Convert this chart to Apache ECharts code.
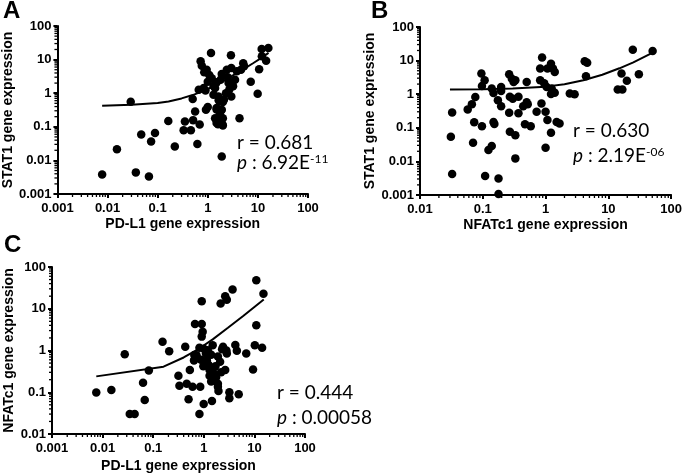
<!DOCTYPE html>
<html><head><meta charset="utf-8">
<script src="https://cdn.jsdelivr.net/npm/echarts@6/dist/echarts.min.js"></script>
<style>html,body{margin:0;padding:0;background:#fff}#c{width:685px;height:474px}</style>
</head><body><div id="c"></div>
<script>
// ---------- Panel A: PD-L1 vs STAT1 ----------
const xA = [0.0078,0.0154,0.029,0.0367,0.067,0.047,0.074,0.0885,0.163,0.22,0.33,0.35,0.46,0.51,0.50,0.56,0.62,0.69,0.72,0.76,0.66,0.83,0.92,1.0,1.16,0.95,1.07,1.2,1.3,1.5,1.4,1.63,1.77,1.5,1.9,1.4,1.57,1.97,2.0,1.9,2.1,2.3,1.9,1.8,2.4,2.9,2.95,2.6,3.2,2.95,3.5,4.3,4.6,5.1,5.3,7.2,9.9,10.6,11.9,16.2,14.6,12,1.5,1.75,2.0,1.6,1.65,2.0,1.5,1.85,1.75,0.85,1.0,0.9,2.5,3.8,1.3,2.7];
const yA = [0.0038,0.0215,0.56,0.0044,0.0033,0.059,0.0365,0.065,0.148,0.026,0.079,0.144,0.079,0.158,0.67,0.287,0.031,0.117,8.9,6.6,1.27,1.43,0.32,0.39,15.8,5.0,3.5,2.8,1.65,2.1,1.43,0.8,0.57,0.36,0.32,0.18,0.155,0.117,0.18,0.013,0.64,1.0,3.7,2.5,5.0,13.4,5.6,2.0,1.6,0.8,2.5,0.18,5.0,7.8,6.3,2.2,0.96,5.2,20.8,22,9.3,12.5,0.13,0.15,0.11,0.12,0.62,0.55,0.33,0.31,0.24,4.2,2.2,1.2,3.0,4.5,0.9,1.3];
const fitAx = [0.0078,0.03,0.1,0.165,0.3,0.5,0.8,1.2,2,3,5,8,12,16.3];
const fitAy = [0.42,0.45,0.51,0.57,0.70,0.88,1.15,1.5,2.25,3.2,5.0,7.8,11.5,15.8];

// ---------- Panel B: NFATc1 vs STAT1 ----------
const xB = [0.0325,0.031,0.0325,0.0575,0.067,0.076,0.073,0.07,0.097,0.095,0.107,0.097,0.109,0.123,0.139,0.148,0.153,0.139,0.148,0.178,0.178,0.174,0.196,0.196,0.196,0.263,0.29,0.31,0.33,0.27,0.3,0.263,0.27,0.33,0.33,0.37,0.37,0.44,0.5,0.5,0.52,0.47,0.58,0.72,0.82,0.82,0.88,0.86,0.95,1.04,1.0,1.07,1.0,1.07,1.22,1.31,1.4,1.22,1.25,1.4,1.22,1.5,1.67,2.43,2.9,4.2,4.6,4.4,14.1,16.7,16.2,19.7,24.5,30.6,50.7];
const yB = [0.285,0.054,0.0042,0.35,0.50,0.83,0.147,0.036,0.112,4.1,2.6,1.74,0.0037,0.0217,0.0285,0.15,0.13,1.47,1.09,0.0031,0.00107,0.66,0.44,1.65,1.25,3.9,2.9,2.3,2.6,0.84,0.73,0.28,0.076,0.06,0.0123,0.84,0.27,0.44,2.3,0.58,0.50,0.128,0.112,0.3,2.6,5.8,12.3,0.53,2.1,1.65,0.30,0.17,0.0255,5.8,8.1,5.8,4.6,1.02,1.47,1.1,0.071,0.15,0.135,1.05,1.0,9.5,8.6,3.4,1.37,1.37,4.1,2.5,21,3.95,19.4];
const fitBx = [0.03,0.1,0.3,1,2,4,8,15,25,50];
const fitBy = [1.39,1.41,1.47,1.68,1.98,2.6,3.8,5.9,8.9,16.9];

// ---------- Panel C: PD-L1 vs NFATc1 ----------
const xC = [0.0075,0.0149,0.0274,0.0344,0.043,0.063,0.068,0.082,0.153,0.207,0.315,0.33,0.43,0.46,0.5,0.53,0.6,0.64,0.67,0.72,0.82,0.85,0.82,0.91,0.91,0.95,0.98,0.91,0.995,1.1,1.15,1.2,1.3,1.4,1.4,1.45,1.5,1.6,1.75,1.9,1.95,1.9,1.9,2.1,2.15,2.3,2.4,2.65,2.65,2.85,2.8,2.85,3.2,3.2,3.7,4.2,4.5,4.9,6.9,9.4,10.2,10.9,10.9,14.2,15.1,0.88,1.25,1.7,1.6,2.2,1.3,0.65,1.0];
const yC = [0.099,0.113,0.817,0.030,0.030,0.169,0.065,0.33,1.61,0.96,0.248,0.143,1.23,0.16,0.068,0.34,0.135,0.58,4.3,0.77,1.17,0.135,0.030,4.3,2.15,2.8,0.42,15.2,0.052,0.85,0.58,1.02,0.34,0.79,0.18,0.062,1.34,0.28,0.23,0.72,0.107,0.135,0.16,0.54,13.3,1.07,1.23,0.34,20,16.5,1.0,0.85,0.1,0.072,29,1.35,0.98,0.09,0.85,0.35,1.34,4.0,48,1.17,23,0.6,0.45,0.42,0.25,0.3,0.25,0.78,1.1];
const fitCx = [0.0075,0.16,0.4,0.8,1.5,3,6,10,15.3];
const fitCy = [0.24,0.41,0.68,1.1,1.85,3.5,6.7,11,16.6];

// ---------- Tick labels ----------
const ticksPDL1 = ['0.001','0.01','0.1','1','10','100'];
const ticksNFATx = ['0.01','0.1','1','10','100'];
const ticksSTAT1 = ['0.001','0.01','0.1','1','10','100'];
const ticksNFATy = ['0.01','0.1','1','10','100'];

const labelFont = 'Liberation Sans';
function zip(a, b) { return a.map((v, i) => [v, b[i]]); }
function minorVals(min, max) {
  const out = [];
  for (let d = min; d < max * 0.99; d *= 10) {
    for (let k = 2; k <= 9; k++) out.push(+(d * k).toPrecision(6));
  }
  return out;
}

function axis(gridIndex, min, max, labels, name, nameGap, margin) {
  const emin = Math.round(Math.log10(min));
  return {
    type: 'log', logBase: 10, gridIndex, min, max, splitNumber: labels.length - 1,
    name, nameLocation: 'middle', nameGap,
    nameTextStyle: { fontFamily: labelFont, fontWeight: 'bold', fontSize: 14, color: '#000' },
    axisLine: { show: true, onZero: false, lineStyle: { color: '#000', width: 2 } },
    axisTick: { show: true, length: 4, lineStyle: { color: '#000', width: 2 } },
    splitLine: { show: false },
    axisLabel: {
      margin, fontFamily: labelFont, fontWeight: 'bold', fontSize: 13, color: '#000',
      formatter: v => labels[Math.round(Math.log10(v)) - emin]
    }
  };
}

const grids = [
  { left: 54, top: 26, width: 254, height: 168 },
  { left: 420, top: 27, width: 253, height: 168 },
  { left: 52, top: 267, width: 253, height: 167 }
];

const xAxes = [
  axis(0, 0.001, 100, ticksPDL1, 'PD-L1 gene expression', 23, 8),
  axis(1, 0.01, 100, ticksNFATx, 'NFATc1 gene expression', 23, 8),
  axis(2, 0.001, 100, ticksPDL1, 'PD-L1 gene expression', 25, 8)
];
const yAxes = [
  axis(0, 0.001, 100, ticksSTAT1, 'STAT1 gene expression', 37, 6),
  axis(1, 0.001, 100, ticksSTAT1, 'STAT1 gene expression', 40, 6),
  axis(2, 0.01, 100, ticksNFATy, 'NFATc1 gene expression', 36, 6)
];

function minorSeries(idx, xMin, xMax, yMin, yMax) {
  const xs = minorVals(xMin, xMax).map(v => [v, yMin]);
  const ys = minorVals(yMin, yMax).map(v => [xMin, v]);
  const common = { type: 'custom', xAxisIndex: idx, yAxisIndex: idx, silent: true, clip: false, z: 3 };
  return [
    Object.assign({}, common, {
      data: xs,
      renderItem: (p, api) => {
        const c = api.coord([api.value(0), api.value(1)]);
        return { type: 'line', shape: { x1: c[0], y1: c[1], x2: c[0], y2: c[1] + 3 }, style: { stroke: '#000', lineWidth: 1.3 } };
      }
    }),
    Object.assign({}, common, {
      data: ys,
      renderItem: (p, api) => {
        const c = api.coord([api.value(0), api.value(1)]);
        return { type: 'line', shape: { x1: c[0], y1: c[1], x2: c[0] - 3, y2: c[1] }, style: { stroke: '#000', lineWidth: 1.3 } };
      }
    })
  ];
}

function scatter(idx, xs, ys) {
  return { type: 'scatter', xAxisIndex: idx, yAxisIndex: idx, data: zip(xs, ys), symbolSize: 8.5, itemStyle: { color: '#000', opacity: 1 }, silent: true, z: 4 };
}
function fit(idx, xs, ys) {
  return { type: 'line', xAxisIndex: idx, yAxisIndex: idx, data: zip(xs, ys), showSymbol: false, smooth: false, lineStyle: { color: '#000', width: 2 }, silent: true, z: 5 };
}

const series = [
  scatter(0, xA, yA), fit(0, fitAx, fitAy),
  scatter(1, xB, yB), fit(1, fitBx, fitBy),
  scatter(2, xC, yC), fit(2, fitCx, fitCy),
  ...minorSeries(0, 0.001, 100, 0.001, 100),
  ...minorSeries(1, 0.01, 100, 0.001, 100),
  ...minorSeries(2, 0.001, 100, 0.01, 100)
];

const annFont = 'Lato';
const rich = {
  i: { fontStyle: 'italic', fontSize: 19, fontFamily: annFont, fill: '#000' },
  s: { fontSize: 12, fontFamily: annFont, verticalAlign: 'top', fill: '#000' }
};
function txt(x, y, text, size, bold, family) {
  return { type: 'text', x, y, silent: true, style: { text, fill: '#000', font: (bold ? 'bold ' : '') + size + 'px "' + family + '"', verticalAlign: 'middle', rich } };
}

const graphic = [
  txt(3, 11, 'A', 24, true, labelFont),
  txt(371, 11, 'B', 24, true, labelFont),
  txt(4, 245, 'C', 24, true, labelFont),
  txt(237, 143, 'r = 0.681', 19, false, annFont),
  txt(237, 163, '{i|p} : 6.92E{s|-11}', 19, false, annFont),
  txt(573, 131, 'r = 0.630', 19, false, annFont),
  txt(573, 156, '{i|p} : 2.19E{s|-06}', 19, false, annFont),
  txt(277, 393, 'r = 0.444', 19, false, annFont),
  txt(277, 418, '{i|p} : 0.00058', 19, false, annFont)
];

const chart = echarts.init(document.getElementById('c'), null, { renderer: 'canvas' });
chart.setOption({
  animation: false,
  backgroundColor: '#fff',
  grid: grids,
  xAxis: xAxes,
  yAxis: yAxes,
  series,
  graphic
});
</script>
</body></html>
